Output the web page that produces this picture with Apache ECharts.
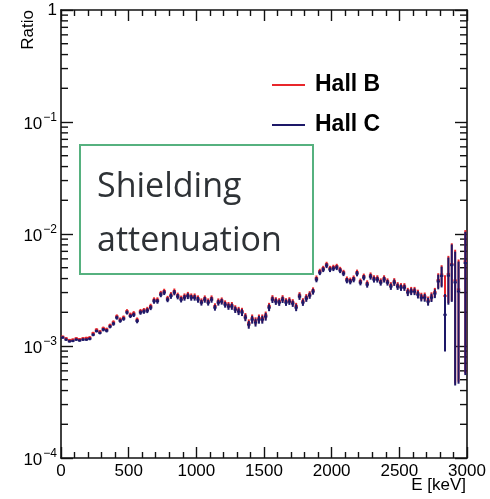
<!DOCTYPE html>
<html>
<head>
<meta charset="utf-8">
<script src="https://cdn.jsdelivr.net/npm/echarts@6/dist/echarts.min.js"></script>
<style>
  html, body { margin: 0; padding: 0; background: #fff; }
  #chart { width: 490px; height: 499px; }
</style>
</head>
<body>
<div id="chart"></div>
<script>
// histogram: 120 bins of 25 keV from 0 to 3000 keV
const binStart = 0;
const binWidth = 25;

// ratio per bin, Hall C (navy)
const hallC = [
  1.19e-3, 1.14e-3, 1.10e-3, 1.11e-3, 1.14e-3, 1.12e-3, 1.14e-3, 1.14e-3, 1.16e-3, 1.26e-3,
  1.36e-3, 1.31e-3, 1.40e-3, 1.37e-3, 1.49e-3, 1.58e-3, 1.79e-3, 1.68e-3, 1.75e-3, 1.99e-3,
  1.85e-3, 1.90e-3, 1.67e-3, 1.99e-3, 2.03e-3, 2.07e-3, 2.20e-3, 2.51e-3, 2.51e-3, 2.87e-3,
  3.00e-3, 2.59e-3, 2.79e-3, 3.00e-3, 2.76e-3, 2.59e-3, 2.70e-3, 2.79e-3, 2.70e-3, 2.70e-3,
  2.59e-3, 2.44e-3, 2.59e-3, 2.44e-3, 2.59e-3, 2.20e-3, 2.44e-3, 2.49e-3, 2.34e-3, 2.25e-3,
  2.25e-3, 2.11e-3, 2.03e-3, 1.99e-3, 1.79e-3, 1.55e-3, 1.72e-3, 1.62e-3, 1.72e-3, 1.72e-3,
  1.83e-3, 2.20e-3, 2.59e-3, 2.49e-3, 2.44e-3, 2.59e-3, 2.44e-3, 2.49e-3, 2.39e-3, 2.20e-3,
  2.76e-3, 2.44e-3, 2.65e-3, 2.82e-3, 3.06e-3, 3.92e-3, 4.52e-3, 4.81e-3, 5.22e-3, 4.81e-3,
  4.91e-3, 5.01e-3, 4.71e-3, 4.43e-3, 3.84e-3, 3.76e-3, 3.92e-3, 4.43e-3, 3.68e-3, 4.08e-3,
  3.53e-3, 4.16e-3, 3.92e-3, 3.92e-3, 3.68e-3, 3.92e-3, 3.68e-3, 3.39e-3, 3.68e-3, 3.39e-3,
  3.32e-3, 3.32e-3, 3.00e-3, 3.06e-3, 3.06e-3, 2.87e-3, 2.70e-3, 2.70e-3, 2.49e-3, 2.70e-3,
  2.94e-3, 3.77e-3, 4.22e-3, 1.90e-3, 4.25e-3, 5.27e-3, 3.70e-3, 3.07e-3, null, 5.50e-3
];

// ratio per bin, Hall B (red)
const hallB = [
  1.21e-3, 1.17e-3, 1.13e-3, 1.14e-3, 1.17e-3, 1.15e-3, 1.17e-3, 1.18e-3, 1.19e-3, 1.30e-3,
  1.40e-3, 1.35e-3, 1.44e-3, 1.41e-3, 1.53e-3, 1.63e-3, 1.84e-3, 1.73e-3, 1.80e-3, 2.05e-3,
  1.91e-3, 1.96e-3, 1.72e-3, 2.05e-3, 2.09e-3, 2.13e-3, 2.27e-3, 2.59e-3, 2.59e-3, 2.96e-3,
  3.09e-3, 2.67e-3, 2.87e-3, 3.09e-3, 2.84e-3, 2.67e-3, 2.78e-3, 2.87e-3, 2.78e-3, 2.78e-3,
  2.67e-3, 2.51e-3, 2.67e-3, 2.51e-3, 2.67e-3, 2.27e-3, 2.51e-3, 2.56e-3, 2.41e-3, 2.32e-3,
  2.32e-3, 2.17e-3, 2.09e-3, 2.05e-3, 1.84e-3, 1.60e-3, 1.77e-3, 1.67e-3, 1.77e-3, 1.77e-3,
  1.88e-3, 2.27e-3, 2.67e-3, 2.56e-3, 2.51e-3, 2.67e-3, 2.51e-3, 2.56e-3, 2.46e-3, 2.27e-3,
  2.84e-3, 2.51e-3, 2.73e-3, 2.90e-3, 3.15e-3, 4.04e-3, 4.66e-3, 4.95e-3, 5.38e-3, 4.95e-3,
  5.06e-3, 5.16e-3, 4.85e-3, 4.56e-3, 3.96e-3, 3.87e-3, 4.04e-3, 4.56e-3, 3.79e-3, 4.20e-3,
  3.64e-3, 4.28e-3, 4.04e-3, 4.04e-3, 3.79e-3, 4.04e-3, 3.79e-3, 3.49e-3, 3.79e-3, 3.49e-3,
  3.42e-3, 3.42e-3, 3.09e-3, 3.15e-3, 3.15e-3, 2.96e-3, 2.78e-3, 2.78e-3, 2.56e-3, 2.78e-3,
  3.03e-3, 3.88e-3, 4.35e-3, 2.80e-3, 4.40e-3, 5.40e-3, 3.85e-3, 3.20e-3, null, 5.70e-3
];

// relative statistical error per bin, percent
const errPct = [
  2.5, 2.5, 2.5, 2.5, 2.5, 2.5, 2.5, 2.5, 3, 3,
  3, 3, 3.5, 3.5, 3.5, 4, 4, 4, 4, 4,
  4, 4.5, 4.5, 4.5, 4.5, 5, 5, 5, 5, 5,
  5, 5, 5.5, 5.5, 5.5, 5.5, 6, 6, 6, 6,
  6, 6, 6, 6, 6, 6, 6, 6, 6, 6.5,
  6.5, 6.5, 7, 7, 7, 8, 8, 8, 8, 8,
  8, 7, 6.5, 6.5, 6.5, 6.5, 6.5, 6.5, 6.5, 7,
  6.5, 6.5, 6.5, 6.5, 6, 5.5, 5, 5, 5, 5,
  5, 5, 5, 5, 5.5, 5.5, 5.5, 5.5, 5.5, 5.5,
  6, 6, 6, 6, 6, 6, 6, 6.5, 6.5, 6.5,
  6.5, 6.5, 7, 7, 7, 7.5, 7.5, 8, 8, 8.5,
  9, 15, 21, 53, 45, 53, 88, 85, 0, 90
];

const xTicks = [0, 500, 1000, 1500, 2000, 2500, 3000];
const yDecades = [1e-4, 1e-3, 1e-2, 1e-1];
const yMinorSteps = [2, 3, 4, 5, 6, 7, 8, 9];

const red = "#e8262b";
const navy = "#1d1868";
const font = "Liberation Sans";

function histData(values) {
  return values.map((v, i) => [
    binStart + binWidth * (i + 0.5),
    v,
    v == null ? 0 : (v * errPct[i]) / 100
  ]);
}

function renderBin(color) {
  return function(params, api) {
    const v = api.value(1);
    if (v == null || isNaN(v)) return;
    const x = api.value(0);
    const e = api.value(2);
    const l = api.coord([x - binWidth / 2, v]);
    const r = api.coord([x + binWidth / 2, v]);
    const t = api.coord([x, v + e]);
    const b = api.coord([x, Math.max(v - e, 1e-5)]);
    const st = { stroke: color, lineWidth: 2 };
    return {
      type: "group",
      children: [
        { type: "line", shape: { x1: l[0], y1: l[1], x2: r[0], y2: r[1] }, style: st },
        { type: "line", shape: { x1: t[0], y1: t[1], x2: b[0], y2: b[1] }, style: st }
      ]
    };
  };
}

const minorY = [];
yDecades.forEach(d => yMinorSteps.forEach(m => minorY.push([0, d * m])));

const xMin = xTicks[0];
const xMax = xTicks[xTicks.length - 1];

const frameLine = { show: true, onZero: false, lineStyle: { color: "#111", width: 1.6 } };

const myChart = echarts.init(document.getElementById("chart"));
myChart.setOption({
  animation: false,
  grid: { left: 61, right: 23, top: 10, bottom: 41 },
  xAxis: [
    {
      type: "value",
      min: xMin,
      max: xMax,
      interval: 500,
      position: "bottom",
      axisLine: frameLine,
      axisTick: { inside: true, length: 11, lineStyle: { color: "#111", width: 1.4 } },
      minorTick: { show: true, splitNumber: 5, length: 6, lineStyle: { color: "#111", width: 1.4 } },
      splitLine: { show: false },
      axisLabel: {
        margin: 5,
        fontFamily: font,
        fontSize: 17,
        color: "#000",
        formatter: v => String(v)
      }
    },
    {
      type: "value",
      min: xMin,
      max: xMax,
      interval: 500,
      position: "top",
      axisLine: frameLine,
      axisTick: { inside: true, length: 11, lineStyle: { color: "#111", width: 1.4 } },
      minorTick: { show: true, splitNumber: 5, length: 6, lineStyle: { color: "#111", width: 1.4 } },
      splitLine: { show: false },
      axisLabel: { show: false }
    }
  ],
  yAxis: [
    {
      type: "log",
      min: 1e-4,
      max: 1,
      position: "left",
      axisLine: frameLine,
      axisTick: { inside: true, length: 12, lineStyle: { color: "#111", width: 1.4 } },
      splitLine: { show: false },
      axisLabel: {
        margin: 4,
        color: "#000",
        formatter: function(val) {
          const p = Math.round(Math.log10(val));
          if (p === 0) return "{b|1}";
          return "{b|10}{e|\u2212" + Math.abs(p) + "}";
        },
        rich: {
          b: { fontFamily: font, fontSize: 17, color: "#000", verticalAlign: "bottom" },
          e: { fontFamily: font, fontSize: 12, color: "#000", verticalAlign: "bottom", padding: [0, 0, 9, 1] }
        }
      }
    },
    {
      type: "log",
      min: 1e-4,
      max: 1,
      position: "right",
      axisLine: frameLine,
      axisTick: { inside: true, length: 12, lineStyle: { color: "#111", width: 1.4 } },
      splitLine: { show: false },
      axisLabel: { show: false }
    }
  ],
  legend: {
    orient: "vertical",
    left: 272,
    top: 72,
    padding: 0,
    itemWidth: 33,
    itemHeight: 2,
    itemGap: 14,
    selectedMode: false,
    textStyle: { fontFamily: font, fontSize: 23, fontWeight: "bold", color: "#000", lineHeight: 26, padding: [0, 0, 0, 5] },
    data: [
      { name: "Hall B", icon: "rect", itemStyle: { color: red } },
      { name: "Hall C", icon: "rect", itemStyle: { color: navy } }
    ]
  },
  series: [
    {
      name: "minor",
      type: "custom",
      silent: true,
      xAxisIndex: 0,
      yAxisIndex: 0,
      data: minorY,
      renderItem: function(params, api) {
        const v = api.value(1);
        const a = api.coord([xMin, v]);
        const b = api.coord([xMax, v]);
        const st = { stroke: "#111", lineWidth: 1.4 };
        return {
          type: "group",
          children: [
            { type: "line", shape: { x1: a[0], y1: a[1], x2: a[0] + 7, y2: a[1] }, style: st },
            { type: "line", shape: { x1: b[0] - 7, y1: b[1], x2: b[0], y2: b[1] }, style: st }
          ]
        };
      }
    },
    {
      name: "Hall B",
      type: "custom",
      itemStyle: { color: red },
      data: histData(hallB),
      renderItem: renderBin(red)
    },
    {
      name: "Hall C",
      type: "custom",
      itemStyle: { color: navy },
      data: histData(hallC),
      renderItem: renderBin(navy)
    }
  ],
  graphic: [
    {
      type: "text",
      x: 28,
      y: 10,
      rotation: Math.PI / 2,
      style: { text: "Ratio", fontFamily: font, fontSize: 17, fill: "#000", align: "right", verticalAlign: "middle" }
    },
    {
      type: "text",
      x: 466,
      y: 485,
      style: { text: "E [keV]", fontFamily: font, fontSize: 17, fill: "#000", align: "right", verticalAlign: "middle" }
    },
    {
      type: "rect",
      shape: { x: 80, y: 145, width: 233, height: 129 },
      style: { fill: "#fff", stroke: "#56b17f", lineWidth: 2 }
    },
    {
      type: "text",
      x: 97,
      y: 187,
      style: { text: "Shielding", fontFamily: "Open Sans", fontSize: 34, fill: "#2e3236", align: "left", verticalAlign: "middle" }
    },
    {
      type: "text",
      x: 97,
      y: 241,
      style: { text: "attenuation", fontFamily: "Open Sans", fontSize: 34, fill: "#2e3236", align: "left", verticalAlign: "middle" }
    }
  ]
});
</script>
</body>
</html>
